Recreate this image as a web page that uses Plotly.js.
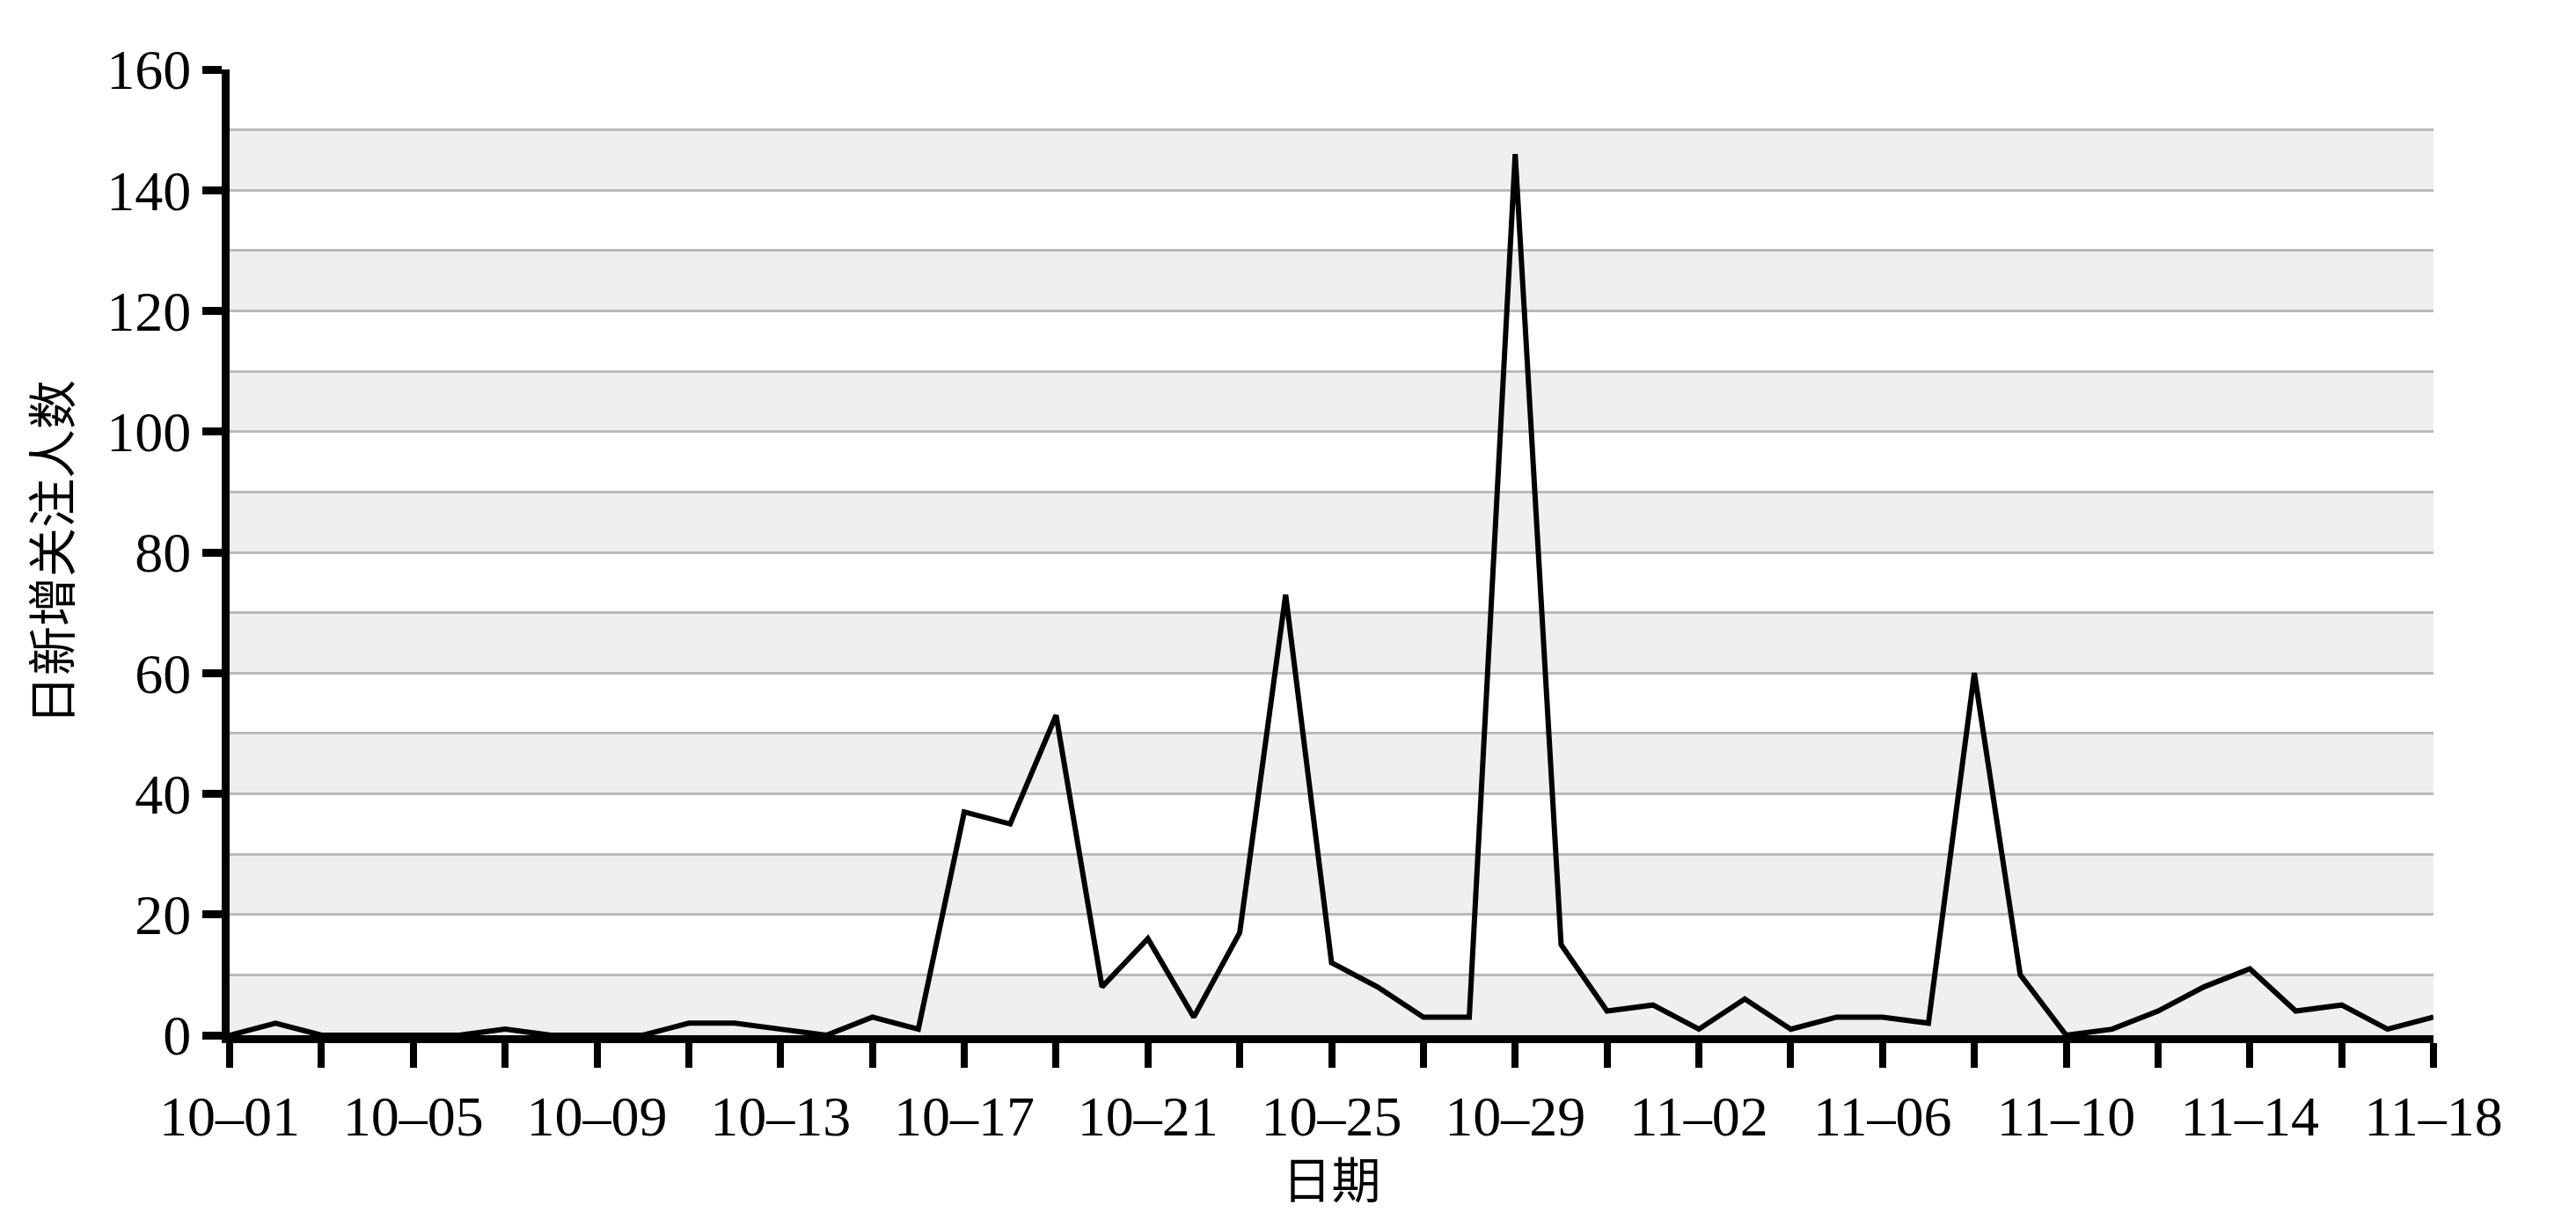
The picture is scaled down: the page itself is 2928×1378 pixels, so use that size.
<!DOCTYPE html>
<html>
<head>
<meta charset="utf-8">
<script src="https://cdn.plot.ly/plotly-3.0.1.min.js"></script>
<style>html,body{margin:0;padding:0;background:#fff;}</style>
</head>
<body>
<div id="chart" style="width:2928px;height:1378px;"></div>
<script>
// ---- data ----
const dates = [
  '10-01','10-02','10-03','10-04','10-05','10-06','10-07','10-08','10-09','10-10',
  '10-11','10-12','10-13','10-14','10-15','10-16','10-17','10-18','10-19','10-20',
  '10-21','10-22','10-23','10-24','10-25','10-26','10-27','10-28','10-29','10-30',
  '10-31','11-01','11-02','11-03','11-04','11-05','11-06','11-07','11-08','11-09',
  '11-10','11-11','11-12','11-13','11-14','11-15','11-16','11-17','11-18'
];
const newFollowers = [
  0, 2, 0, 0, 0, 0, 1, 0, 0, 0,
  2, 2, 1, 0, 3, 1, 37, 35, 53, 8,
  16, 3, 17, 73, 12, 8, 3, 3, 146, 15,
  4, 5, 1, 6, 1, 3, 3, 2, 60, 10,
  0, 1, 4, 8, 11, 4, 5, 1, 3
];
const yTickVals = [0, 20, 40, 60, 80, 100, 120, 140, 160];
const xTitleText = '日期';
const yTitleText = '日新增关注人数';

// ---- derived tick setup: tick every 2 days, label every 4 days ----
const xTickVals = dates.filter((d, i) => i % 2 === 0);
const xTickText = dates.map((d, i) => (i % 4 === 0 ? d.replace('-', '–') : '')).filter((d, i) => i % 2 === 0);

// alternating shaded bands
const shapes = [];
for (let v = 0; v < 160; v += 20) {
  shapes.push({
    type: 'rect', xref: 'paper', yref: 'y', x0: 0, x1: 1, y0: v, y1: v + 10,
    fillcolor: '#efefef', line: {width: 0}, layer: 'below'
  });
}

const serif = 'Liberation Serif, Times New Roman, serif';
const cjk = 'Noto Sans CJK SC, sans-serif';

const trace = {
  type: 'scatter', mode: 'lines',
  x: dates, y: newFollowers,
  line: {color: '#000', width: 6},
  hoverinfo: 'skip'
};

const layout = {
  width: 2928, height: 1378,
  paper_bgcolor: '#fff', plot_bgcolor: '#fff',
  margin: {l: 261, r: 162, t: 79, b: 201, autoexpand: false},
  showlegend: false,
  shapes: shapes,
  xaxis: {
    type: 'category',
    range: [0, dates.length - 1],
    tickmode: 'array', tickvals: xTickVals, ticktext: xTickText,
    ticks: 'outside', ticklen: 28, tickwidth: 8, tickcolor: '#000',
    showline: true, linewidth: 9, linecolor: '#000',
    showgrid: false, zeroline: false,
    tickfont: {family: serif, size: 64, color: '#000'},
    title: {text: xTitleText, font: {family: cjk, size: 56, color: '#000'}, standoff: 8},
    automargin: false, fixedrange: true
  },
  yaxis: {
    range: [0, 160],
    tickmode: 'array', tickvals: yTickVals,
    ticks: 'outside', ticklen: 22, tickwidth: 9, tickcolor: '#000',
    showline: true, linewidth: 9, linecolor: '#000',
    showgrid: true, gridcolor: '#bababa', gridwidth: 3,
    minor: {dtick: 10, tick0: 0, showgrid: true, gridcolor: '#bababa', gridwidth: 3, ticks: ''},
    zeroline: false,
    tickfont: {family: serif, size: 64, color: '#000'},
    title: {text: yTitleText, font: {family: cjk, size: 56, color: '#000'}, standoff: 26},
    automargin: false, fixedrange: true
  }
};

Plotly.newPlot('chart', [trace], layout, {displayModeBar: false, staticPlot: true});
</script>
</body>
</html>
